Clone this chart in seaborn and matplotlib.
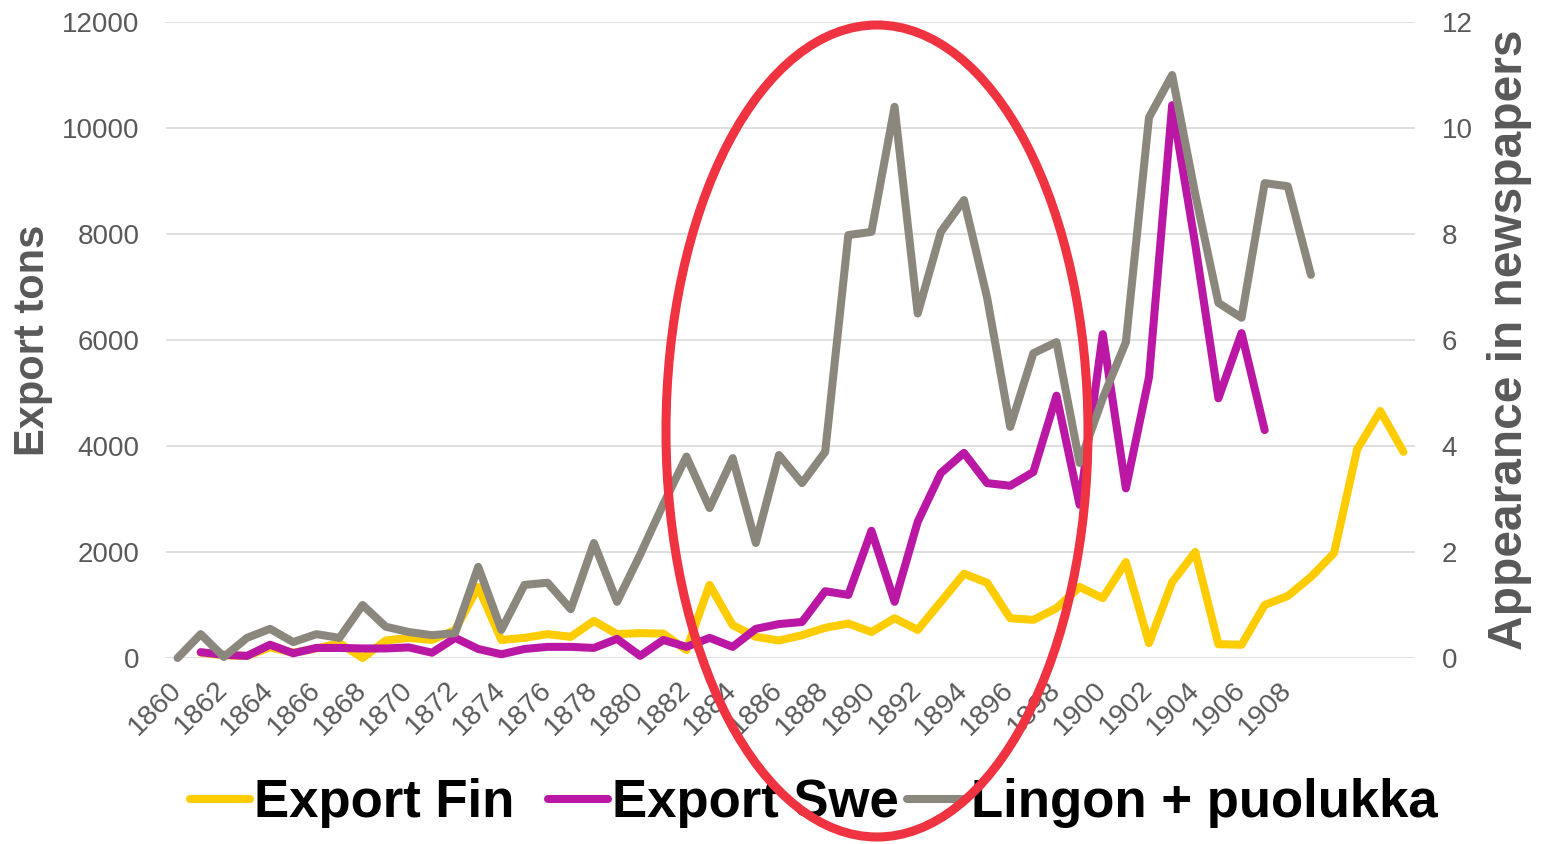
import matplotlib
matplotlib.use("Agg")
import matplotlib.pyplot as plt
from matplotlib.patches import Ellipse
import numpy as np
import pandas as pd
import seaborn as sns

# data
fin_years = list(range(1861, 1914))
export_fin = [100, 50, 40, 200, 100, 180, 280, 0, 330, 380,
              340, 530, 1340, 340, 380, 450, 400, 700, 450, 470,
              460, 150, 1380, 620, 400, 330, 430, 570, 650, 490,
              750, 530, 1060, 1590, 1420, 750, 720, 940, 1340, 1130,
              1810, 280, 1430, 2000, 260, 250, 1000, 1170, 1530, 1980,
              3940, 4660, 3890]

swe_years = list(range(1861, 1908))
export_swe = [110, 60, 40, 250, 90, 190, 190, 180, 180, 200,
              100, 380, 170, 70, 170, 210, 210, 190, 360, 40,
              340, 210, 380, 210, 550, 640, 680, 1260, 1190, 2400,
              1060, 2570, 3490, 3870, 3300, 3250, 3510, 4950, 2890, 6110,
              3200, 5300, 10430, 7800, 4900, 6130, 4300]

lingon_years = list(range(1860, 1910))
lingon = [0, 0.45, 0.02, 0.38, 0.55, 0.3, 0.45, 0.38, 1.0, 0.59,
          0.49, 0.43, 0.47, 1.72, 0.53, 1.38, 1.42, 0.92, 2.17, 1.06,
          1.95, 2.9, 3.8, 2.83, 3.77, 2.17, 3.83, 3.3, 3.89, 7.98,
          8.04, 10.4, 6.5, 8.04, 8.64, 6.8, 4.36, 5.75, 5.96, 3.68,
          4.9, 5.96, 10.2, 11.0, 8.75, 6.7, 6.42, 8.96, 8.9, 7.23]

tick_years = list(range(1860, 1909, 2))
left_ticks = [0, 2000, 4000, 6000, 8000, 10000, 12000]
right_ticks = [0, 2, 4, 6, 8, 10, 12]

df_fin = pd.DataFrame({"year": fin_years, "value": export_fin})
df_swe = pd.DataFrame({"year": swe_years, "value": export_swe})
df_lin = pd.DataFrame({"year": lingon_years, "value": lingon})

sns.set_theme(style="white")
plt.rcParams["font.family"] = ["Liberation Sans", "DejaVu Sans"]

W, H = 1543, 844
fig = plt.figure(figsize=(W / 100, H / 100), dpi=100)
ax = fig.add_axes([166 / W, 1 - 658 / H, (1415 - 166) / W, (658 - 22) / H])
ax2 = ax.twinx()

grey_txt = "#595959"
line_kw = dict(linewidth=5.8, solid_capstyle="round", solid_joinstyle="round", clip_on=False)

sns.lineplot(data=df_fin, x="year", y="value", ax=ax, color="#FFCC00", label="Export Fin", **line_kw)
sns.lineplot(data=df_swe, x="year", y="value", ax=ax, color="#BA17A5", label="Export Swe", **line_kw)
sns.lineplot(data=df_lin, x="year", y="value", ax=ax2, color="#8C877D", label="Lingon + puolukka", **line_kw)

for a in (ax, ax2):
    if a.get_legend():
        a.get_legend().remove()
    for s in a.spines.values():
        s.set_visible(False)
    a.set_xlabel("")
    a.set_ylabel("")

ax.set_xlim(1859.5, 1913.5)
ax.set_ylim(0, 12000)
ax2.set_ylim(0, 12)
ax.set_yticks(left_ticks)
ax.set_yticklabels([str(t) for t in left_ticks])
ax2.set_yticks(right_ticks)
ax2.set_yticklabels([str(t) for t in right_ticks])
ax.set_xticks(tick_years)
ax.set_xticklabels([str(t) for t in tick_years], rotation=45, ha="right",
                   va="center", rotation_mode="anchor")

ax.grid(axis="y", color="#D9D9D9", linewidth=1.2)
ax.grid(axis="x", visible=False)
ax2.grid(False)
ax.set_axisbelow(True)

ax.tick_params(axis="y", labelsize=20, colors=grey_txt, length=0, pad=19)
ax.tick_params(axis="x", labelsize=20.5, colors=grey_txt, length=0, pad=20)
ax2.tick_params(axis="y", labelsize=20, colors=grey_txt, length=0, pad=19)

fig.text(33 / W, 1 - 340 / H, "Export tons", rotation=90, ha="center", va="center",
         fontsize=30, fontweight="bold", color=grey_txt)
fig.text(1510 / W, 1 - 340 / H, "Appearance in newspapers", rotation=90, ha="center",
         va="center", fontsize=34.5, fontweight="bold", color=grey_txt)

# legend: one entry per slot, placed like the original
handles = ax.get_lines()[:2] + ax2.get_lines()[:1]
names = ["Export Fin", "Export Swe", "Lingon + puolukka"]
starts = [190, 548, 907]
for h, n, x0 in zip(handles, names, starts):
    fig.legend([h], [n], loc="center left", bbox_to_anchor=(x0 / W, 1 - 803 / H),
               frameon=False, borderpad=0, borderaxespad=0, handlelength=1.14,
               handletextpad=0.08, labelcolor="black",
               prop={"weight": "bold", "size": 38})

# red ellipse drawn over everything
over = fig.add_axes([0, 0, 1, 1], zorder=10)
over.set_xlim(0, W)
over.set_ylim(H, 0)
over.axis("off")
over.patch.set_alpha(0)
over.add_patch(Ellipse((877, 431), 422, 812, fill=False, edgecolor="#EF3340", linewidth=6.5))

fig.savefig("out.png", dpi=100)
